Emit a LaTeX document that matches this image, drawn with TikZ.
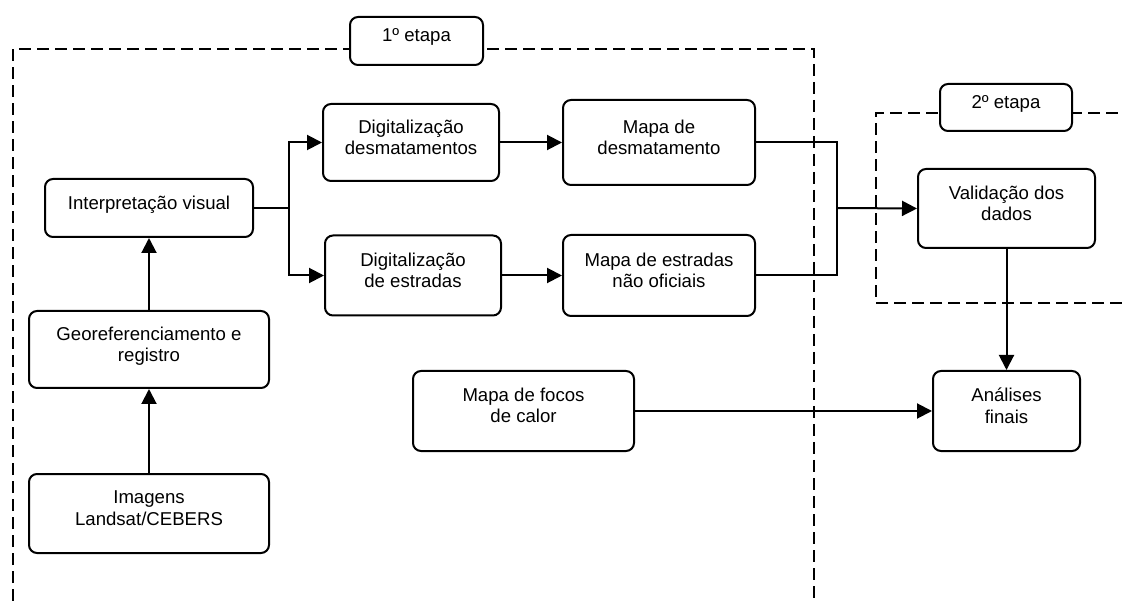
\documentclass[tikz,border=0pt]{standalone}
\usepackage{fontspec}
\setmainfont{Liberation Sans}
\usetikzlibrary{arrows.meta}
\begin{document}
\begin{tikzpicture}[x=1pt,y=-1pt,
  box/.style={draw=black,line width=2pt,rounded corners=8pt,fill=white,align=center,
    inner sep=0pt,font=\fontsize{18.6}{21.4}\selectfont,text depth=11pt},
  conn/.style={line width=2pt},
  arr/.style={line width=2pt,-{Triangle[length=15pt,width=15pt]}},
  stage/.style={line width=2pt,dash pattern=on 12pt off 6pt}]
\useasboundingbox (0,0) rectangle (1122,601);
% stage frames
\draw[stage] (13,601) -- (13,49) -- (814,49) -- (814,601);
\draw[stage] (1122,303) -- (876,303) -- (876,113) -- (1122,113);
% nodes
\node[box,minimum width=133pt,minimum height=48pt] (e1) at (416.5,41) {1º etapa};
\node[box,minimum width=132pt,minimum height=47pt] (e2) at (1006,107.5) {2º etapa};
\node[box,minimum width=176pt,minimum height=77pt] (dd) at (411,142.5) {Digitalização\\desmatamentos};
\node[box,minimum width=176pt,minimum height=80pt] (de) at (413,275.5) {Digitalização\\de estradas};
\node[box,minimum width=208pt,minimum height=58pt] (iv) at (149,208) {Interpretação visual};
\node[box,minimum width=192pt,minimum height=85pt] (md) at (659,142.5) {Mapa de\\desmatamento};
\node[box,minimum width=192pt,minimum height=81pt] (men) at (659,275.5) {Mapa de estradas\\não oficiais};
\node[box,minimum width=177pt,minimum height=79pt] (vd) at (1006.5,208.5) {Validação dos\\dados};
\node[box,minimum width=240pt,minimum height=77pt] (gr) at (149,349.5) {Georeferenciamento e\\registro};
\node[box,minimum width=240pt,minimum height=79pt] (im) at (149,513.5) {Imagens\\Landsat/CEBERS};
\node[box,minimum width=221pt,minimum height=80pt] (mf) at (523.5,411) {Mapa de focos\\de calor};
\node[box,minimum width=147pt,minimum height=80pt] (af) at (1006.5,411) {Análises\\finais};
% connectors
\coordinate (bx) at (289,208);
\coordinate (mx) at (837,208);
\draw[arr] (im.north) -- (gr.south);
\draw[arr] (gr.north) -- (iv.south);
\draw[conn] (iv.east) -- (bx);
\draw[arr] (bx) |- (dd.west);
\draw[arr] (bx) |- (de.west);
\draw[arr] (dd.east) -- (md.west);
\draw[arr] (de.east) -- (men.west);
\draw[conn] (md.east) -| (mx);
\draw[conn] (men.east) -| (mx);
\draw[arr] (mx) -- (vd.west);
\draw[arr] (vd.south) -- (af.north);
\draw[arr] (mf.east) -- (af.west);
\end{tikzpicture}
\end{document}
